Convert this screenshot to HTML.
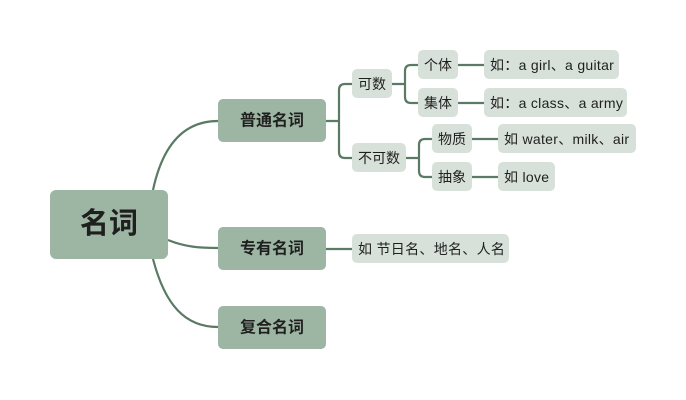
<!DOCTYPE html>
<html><head><meta charset="utf-8"><style>
html,body{margin:0;padding:0;background:#fff;width:686px;height:400px;overflow:hidden}
svg{display:block}
text{font-family:"Liberation Sans","Noto Sans CJK SC",sans-serif;fill:#1f1f1f;dominant-baseline:central}
</style></head><body>
<svg width="686" height="400" viewBox="0 0 686 400" xmlns="http://www.w3.org/2000/svg">
<g fill="none" stroke="#5b7a64" stroke-width="2.2">
<path d="M153,190 C162,148 182,121 218,121"/>
<path d="M168,240 C185,247 200,248 218,248"/>
<path d="M153,259 C165,305 185,327 218,327"/>
<path d="M326,121 H339 M352,84 H345 Q339,84 339,90 V152 Q339,158 345,158 H352"/>
<path d="M392,84 H405 M418,65 H411 Q405,65 405,71 V97 Q405,103 411,103 H418"/>
<path d="M406,158 H419 M432,139 H425 Q419,139 419,145 V171 Q419,177 425,177 H432"/>
<path d="M458,65 H484 M458,103 H484 M472,139 H498 M472,177 H498 M326,249 H352"/>
</g>
<g fill="#9db6a4">
<rect x="50" y="190" width="118" height="69" rx="6"/>
<rect x="218" y="99" width="108" height="43" rx="5"/>
<rect x="218" y="227" width="108" height="43" rx="5"/>
<rect x="218" y="306" width="108" height="43" rx="5"/>
</g>
<g fill="#d7e1d9">
<rect x="352" y="69" width="40" height="29" rx="5"/>
<rect x="352" y="143" width="54" height="29" rx="5"/>
<rect x="418" y="50" width="40" height="29" rx="5"/>
<rect x="418" y="88" width="40" height="29" rx="5"/>
<rect x="432" y="124" width="40" height="29" rx="5"/>
<rect x="432" y="162" width="40" height="29" rx="5"/>
<rect x="484" y="50" width="135" height="29" rx="5"/>
<rect x="484" y="88" width="143" height="29" rx="5"/>
<rect x="498" y="124" width="138" height="29" rx="5"/>
<rect x="498" y="162" width="57" height="29" rx="5"/>
<rect x="352" y="234" width="157" height="29" rx="5"/>
</g>
<text x="109" y="224" font-size="29" font-weight="bold" text-anchor="middle">名词</text>
<g font-size="16" font-weight="bold" text-anchor="middle">
<text x="272" y="121">普通名词</text>
<text x="272" y="249">专有名词</text>
<text x="272" y="328">复合名词</text>
</g>
<g font-size="14" text-anchor="middle">
<text x="372" y="84">可数</text>
<text x="379" y="158">不可数</text>
<text x="438" y="65">个体</text>
<text x="438" y="103">集体</text>
<text x="452" y="139">物质</text>
<text x="452" y="177">抽象</text>
</g>
<g font-size="14" letter-spacing="0.3">
<text x="490" y="65">如：a girl、a guitar</text>
<text x="490" y="103">如：a class、a army</text>
<text x="504" y="139">如 water、milk、air</text>
<text x="504" y="177">如 love</text>
<text x="358" y="249">如 节日名、地名、人名</text>
</g>
</svg>
</body></html>
